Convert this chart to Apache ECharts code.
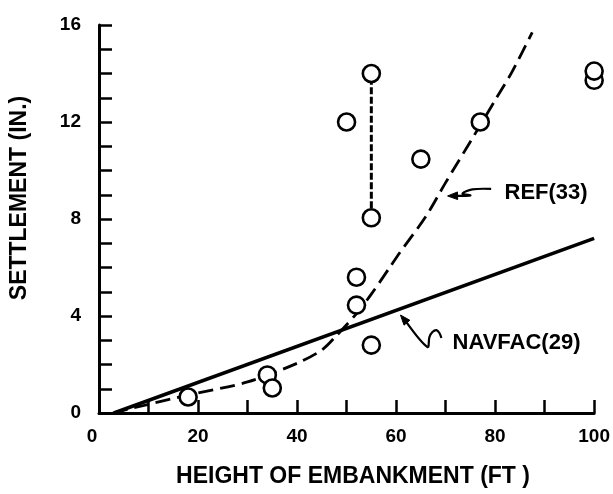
<!DOCTYPE html>
<html>
<head>
<meta charset="utf-8">
<script src="https://cdn.jsdelivr.net/npm/echarts@6/dist/echarts.min.js"></script>
<style>
  html, body { margin: 0; padding: 0; background: #fff; }
  #chart { width: 613px; height: 494px; }
</style>
</head>
<body>
<div id="chart"></div>
<script>
// Settlement vs. embankment height: observed points and two predictions
const FONT = '"Liberation Sans", Arial, Helvetica, sans-serif';

// NAVFAC(29) prediction (straight line)
const navfacX = [3, 100];
const navfacY = [0, 7.2];

// REF(33) prediction (dashed curve)
const refX = [2.8, 10, 18, 30, 40, 45, 48, 52, 55, 58.7, 60.7, 66, 70, 75.8, 80, 83.5, 87.5];
const refY = [0, 0.36, 0.74, 1.28, 2.05, 2.6, 3.2, 4.1, 4.9, 6.0, 6.6, 8.1, 9.5, 11.46, 12.9, 14.1, 15.7];

// Observed settlements
const obsX = [18, 34, 35, 50, 52, 52, 55, 55, 55, 65, 77, 100, 100];
const obsY = [0.66, 1.57, 1.03, 12.0, 5.6, 4.45, 2.8, 8.05, 14.0, 10.47, 12.0, 13.72, 14.1];

// Two readings at the same section joined by a dashed bar
const pairX = [55, 55];
const pairY = [8.05, 14.0];

// Axis ticks and labels
const xMin = 0, xMax = 100, xStep = 10, xLabelStep = 20;
const yMin = 0, yMax = 16, yStep = 1, yLabelStep = 4;

// Callout labels and their leader arrows (data units)
const refLabel = { text: 'REF(33)', x: 81.9, y: 9.07 };
const refArrow = [[79.2, 9.24], [75.4, 9.22], [73.4, 9.05], [75.0, 8.97], [70.4, 8.95]];
const navfacLabel = { text: 'NAVFAC(29)', x: 71.4, y: 2.89 };
const navfacArrow = [[69.15, 3.09], [68.75, 3.3], [68.15, 3.42], [67.34, 3.34], [66.73, 3.13], [66.33, 2.72], [60.89, 4.04]];

const zip = (xs, ys) => xs.map((x, i) => [x, ys[i]]);

const chart = echarts.init(document.getElementById('chart'), null, { renderer: 'canvas' });

chart.setOption({
  animation: false,
  backgroundColor: '#fff',
  grid: { left: 99, right: 18, top: 25, bottom: 81 },
  xAxis: {
    type: 'value', min: xMin, max: xMax, interval: xStep,
    axisLine: { show: true, lineStyle: { color: '#000', width: 3 } },
    axisTick: { show: true, inside: true, length: 13, lineStyle: { color: '#000', width: 2.5 } },
    splitLine: { show: false },
    axisLabel: {
      margin: 14, color: '#000', fontFamily: FONT, fontWeight: 'bold', fontSize: 19,
      formatter: v => v % xLabelStep === 0 ? (v === 0 ? '{z|0}' : String(v)) : '',
      rich: { z: { fontFamily: FONT, fontWeight: 'bold', fontSize: 19, color: '#000', padding: [0, 14, 0, 0] } }
    }
  },
  yAxis: {
    type: 'value', min: yMin, max: yMax, interval: yStep,
    axisLine: { show: true, lineStyle: { color: '#000', width: 3 } },
    axisTick: { show: true, inside: true, length: 13, lineStyle: { color: '#000', width: 2.5 } },
    splitLine: { show: false },
    axisLabel: {
      margin: 18, color: '#000', fontFamily: FONT, fontWeight: 'bold', fontSize: 19,
      formatter: v => v % yLabelStep === 0 ? String(v) : ''
    }
  },
  series: [
    {
      name: 'NAVFAC(29)', type: 'line', data: zip(navfacX, navfacY),
      showSymbol: false, symbol: 'none',
      lineStyle: { color: '#000', width: 3.5 }, z: 2
    },
    {
      name: 'REF(33)', type: 'line', data: zip(refX, refY),
      smooth: 0.3, showSymbol: false, symbol: 'none',
      lineStyle: { color: '#000', width: 2.8, type: [15, 7] }, z: 2
    },
    {
      name: 'range', type: 'line', data: zip(pairX, pairY),
      showSymbol: false, symbol: 'none',
      lineStyle: { color: '#000', width: 3, type: [7, 2.5] }, z: 2
    },
    {
      name: 'observed', type: 'scatter', data: zip(obsX, obsY),
      symbol: 'circle', symbolSize: 17,
      itemStyle: { color: '#fff', borderColor: '#000', borderWidth: 2.6, opacity: 1 },
      z: 5
    }
  ]
});

// Leader arrows and callout text placed through the grid's coordinate system
function px(p) { return chart.convertToPixel({ gridIndex: 0 }, p); }

function arrow(points) {
  const pts = points.map(px);
  const tip = pts[pts.length - 1];
  const prev = pts[pts.length - 2];
  const dx = tip[0] - prev[0], dy = tip[1] - prev[1];
  const len = Math.hypot(dx, dy) || 1;
  const ux = dx / len, uy = dy / len;
  const L = 10, W = 3.8;
  const bx = tip[0] - ux * L, by = tip[1] - uy * L;
  return [
    { type: 'polyline', shape: { points: pts.slice(0, -1).concat([[bx + ux * 2, by + uy * 2]]), smooth: 0.35 },
      style: { stroke: '#000', lineWidth: 2.2, fill: null }, z: 10 },
    { type: 'polygon', shape: { points: [tip, [bx - uy * W, by + ux * W], [bx + uy * W, by - ux * W]] },
      style: { fill: '#000', stroke: '#000', lineWidth: 1 }, z: 10 }
  ];
}

function callout(lbl) {
  const p = px([lbl.x, lbl.y]);
  return {
    type: 'text', x: p[0], y: p[1], z: 10,
    style: { text: lbl.text, fill: '#000', font: 'bold 22px ' + FONT, textAlign: 'left', textVerticalAlign: 'middle' }
  };
}

chart.setOption({
  graphic: [
    ...arrow(refArrow),
    ...arrow(navfacArrow),
    callout(refLabel),
    callout(navfacLabel),
    {
      type: 'text', x: 353, y: 477, z: 10,
      style: { text: 'HEIGHT OF EMBANKMENT (FT )', fill: '#000', font: 'bold 23px ' + FONT, textAlign: 'center', textVerticalAlign: 'middle' }
    },
    {
      type: 'text', x: 20, y: 198, rotation: Math.PI / 2, z: 10,
      style: { text: 'SETTLEMENT (IN.)', fill: '#000', font: 'bold 23px ' + FONT, textAlign: 'center', textVerticalAlign: 'middle' }
    }
  ]
});
</script>
</body>
</html>
